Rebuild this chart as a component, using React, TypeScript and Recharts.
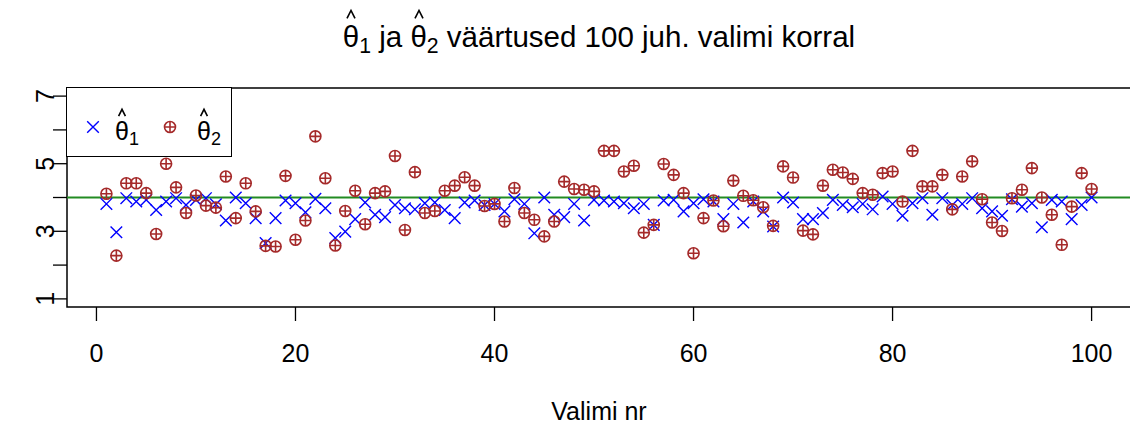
import React from "react"
import { ComposedChart, Scatter, XAxis, YAxis, ReferenceLine, ReferenceArea } from "recharts"

// valimi nr 1..100
const sampleNr = Array.from({ length: 100 }, (_, i) => i + 1)

const theta1 = [
  3.81, 2.97, 3.98, 3.88, 3.93, 3.63, 3.88, 3.98, 3.78, 3.93,
  3.98, 3.8, 3.32, 4.0, 3.83, 3.39, 2.65, 3.39, 3.91, 3.83,
  3.56, 3.96, 3.68, 2.8, 2.99, 3.36, 3.85, 3.49, 3.42, 3.78,
  3.68, 3.65, 3.83, 3.85, 3.63, 3.39, 3.85, 3.91, 3.78, 3.81,
  3.59, 3.95, 3.81, 2.94, 4.0, 3.49, 3.42, 3.81, 3.32, 3.93,
  3.91, 3.88, 3.83, 3.68, 3.81, 3.19, 3.91, 3.93, 3.59, 3.83,
  3.95, 3.88, 3.36, 3.81, 3.26, 3.88, 3.59, 3.14, 4.0, 3.85,
  3.36, 3.36, 3.54, 3.93, 3.78, 3.71, 3.81, 3.65, 4.03, 3.81,
  3.46, 3.83, 3.98, 3.49, 3.98, 3.78, 3.81, 3.98, 3.68, 3.59,
  3.46, 3.95, 3.73, 3.83, 3.12, 3.93, 3.88, 3.36, 3.78, 4.0,
]

const theta2 = [
  4.11, 2.28, 4.42, 4.42, 4.13, 2.92, 5.0, 4.3, 3.54, 4.06,
  3.76, 3.7, 4.62, 3.39, 4.42, 3.59, 2.57, 2.55, 4.64, 2.75,
  3.32, 5.81, 4.57, 2.58, 3.6, 4.2, 3.21, 4.13, 4.18, 5.23,
  3.04, 4.75, 3.54, 3.6, 4.2, 4.35, 4.6, 4.35, 3.75, 3.81,
  3.29, 4.28, 3.54, 3.34, 2.85, 3.29, 4.47, 4.25, 4.23, 4.18,
  5.38, 5.38, 4.77, 4.94, 2.96, 3.19, 4.99, 4.67, 4.13, 2.35,
  3.39, 3.91, 3.15, 4.5, 4.05, 3.92, 3.71, 3.16, 4.92, 4.59,
  3.02, 2.91, 4.35, 4.82, 4.74, 4.55, 4.13, 4.08, 4.72, 4.77,
  3.88, 5.38, 4.33, 4.33, 4.67, 3.65, 4.62, 5.07, 3.95, 3.26,
  3.01, 3.98, 4.23, 4.87, 4.0, 3.49, 2.6, 3.73, 4.72, 4.25,
]

const trueValue = 4
const xTicks = [0, 20, 40, 60, 80, 100]
const yTicks = [1, 2, 3, 4, 5, 6, 7]
const yLabeled = [1, 3, 5, 7]
const xDomain = [-2.96, 103.96]
const yDomain = [0.76, 7.24]

const FONT = "'Liberation Sans', Arial, sans-serif"
const BLUE = "#0000ff"
const RED = "#a52a2a"

const d1 = sampleNr.map((x, i) => ({ x, y: theta1[i] }))
const d2 = sampleNr.map((x, i) => ({ x, y: theta2[i] }))

function CrossMark(props: any) {
  const { cx, cy } = props
  if (cx == null || cy == null) return null
  const s = 5.8
  return (
    <path
      d={`M${cx - s},${cy - s}L${cx + s},${cy + s}M${cx - s},${cy + s}L${cx + s},${cy - s}`}
      stroke={BLUE}
      strokeWidth={1.4}
      fill="none"
    />
  )
}

function CirclePlusMark(props: any) {
  const { cx, cy } = props
  if (cx == null || cy == null) return null
  const r = 5.5
  return (
    <g stroke={RED} strokeWidth={1.6} fill="none">
      <circle cx={cx} cy={cy} r={r} />
      <path d={`M${cx - r},${cy}L${cx + r},${cy}M${cx},${cy - r}L${cx},${cy + r}`} />
    </g>
  )
}

function YTick(props: any) {
  const { y, payload } = props
  if (!yLabeled.includes(payload.value)) return <g />
  return (
    <text
      transform={`translate(45,${y}) rotate(-90)`}
      textAnchor="middle"
      dy="0.36em"
      fontSize={25}
      fontFamily={FONT}
      fill="#000"
    >
      {payload.value}
    </text>
  )
}

// theta with a hat drawn as a small chevron, plus subscript
function HatTheta({ sub }: { sub: string }) {
  return (
    <span style={{ whiteSpace: "nowrap" }}>
      <span style={{ position: "relative", display: "inline-block" }}>
        <svg
          viewBox="0 0 10 8"
          style={{
            position: "absolute",
            left: "50%",
            top: "-0.42em",
            width: "0.34em",
            height: "0.3em",
            transform: "translateX(-50%)",
            overflow: "visible",
          }}
        >
          <polyline
            points="1,8 5,0 9,8"
            fill="none"
            stroke="#000"
            strokeWidth={1.6}
            vectorEffect="non-scaling-stroke"
          />
        </svg>
        θ
      </span>
      <span style={{ fontSize: "0.72em", position: "relative", top: "0.3em" }}>{sub}</span>
    </span>
  )
}

export default function App() {
  return (
    <div
      style={{
        position: "absolute",
        left: 0,
        top: 0,
        width: 1130,
        height: 429,
        overflow: "hidden",
        background: "#fff",
        fontFamily: FONT,
      }}
    >
      {/* pealkiri */}
      <div
        style={{
          position: "absolute",
          left: 0,
          width: 1198,
          top: 22,
          textAlign: "center",
          fontSize: 29.5,
          lineHeight: "29.5px",
          color: "#000",
        }}
      >
        <HatTheta sub="1" /> ja <HatTheta sub="2" /> väärtused 100 juh. valimi korral
      </div>

      <ComposedChart width={1140} height={429} margin={{ top: 88, right: 9, bottom: 0, left: 0 }}>
        <XAxis
          type="number"
          dataKey="x"
          domain={xDomain}
          ticks={xTicks}
          interval={0}
          allowDataOverflow
          axisLine={false}
          tickSize={14}
          tickMargin={23}
          tickLine={{ stroke: "#000", strokeWidth: 1.3 }}
          tick={{ fill: "#000", fontSize: 25, fontFamily: FONT }}
          height={122}
          label={{
            value: "Valimi nr",
            position: "insideBottom",
            offset: 9,
            fill: "#000",
            fontSize: 25,
            fontFamily: FONT,
          }}
        />
        <YAxis
          type="number"
          dataKey="y"
          domain={yDomain}
          ticks={yTicks}
          interval={0}
          allowDataOverflow
          axisLine={false}
          tickSize={14}
          tickLine={{ stroke: "#000", strokeWidth: 1.3 }}
          tick={<YTick />}
          width={67}
        />
        <ReferenceArea
          x1={xDomain[0]}
          x2={xDomain[1]}
          y1={yDomain[0]}
          y2={yDomain[1]}
          fill="none"
          fillOpacity={0}
          stroke="#000"
          strokeWidth={1.5}
          ifOverflow="visible"
        />
        <ReferenceLine y={trueValue} stroke="#228b22" strokeWidth={2} />
        <Scatter data={d1} dataKey="y" shape={<CrossMark />} isAnimationActive={false} />
        <Scatter data={d2} dataKey="y" shape={<CirclePlusMark />} isAnimationActive={false} />
      </ComposedChart>

      {/* legend */}
      <div
        style={{
          position: "absolute",
          left: 66,
          top: 87,
          width: 166,
          height: 70,
          boxSizing: "border-box",
          border: "1.5px solid #000",
          background: "#fff",
          fontSize: 25,
          lineHeight: "25px",
        }}
      >
        <svg width={166} height={70} style={{ position: "absolute", left: -1.5, top: -1.5 }}>
          <CrossMark cx={27} cy={40} />
          <CirclePlusMark cx={104} cy={40} />
        </svg>
        <div style={{ position: "absolute", left: 48, top: 31 }}>
          <HatTheta sub="1" />
        </div>
        <div style={{ position: "absolute", left: 130, top: 31 }}>
          <HatTheta sub="2" />
        </div>
      </div>
    </div>
  )
}
